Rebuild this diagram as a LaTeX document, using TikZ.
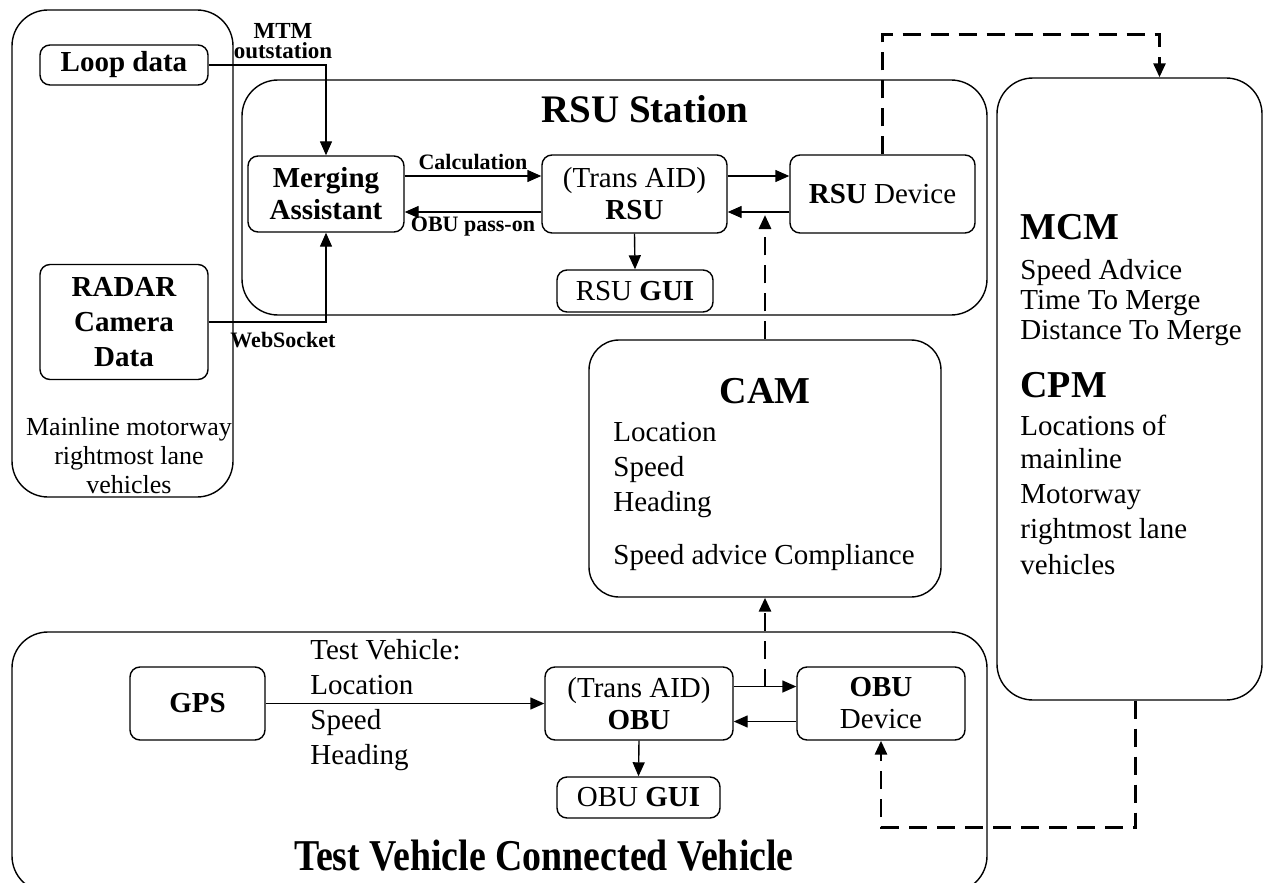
\documentclass[tikz,border=0pt]{standalone}
\usepackage{fontspec}
\setmainfont{Liberation Serif}
\newfontfamily\narrowserif[FakeStretch=0.86]{Liberation Serif}
\usetikzlibrary{arrows.meta}

\tikzset{
  box/.style={draw, rectangle, rounded corners=5pt, line width=0.7pt, align=center, inner sep=2pt, font=\fontsize{14.5}{16}\selectfont},
  frame/.style={draw, rectangle, rounded corners=18pt, line width=0.7pt},
  txt/.style={align=left, inner sep=0pt, font=\fontsize{14.5}{17.5}\selectfont},
  lbl/.style={align=center, inner sep=1pt, font=\fontsize{11}{10}\selectfont\bfseries},
  link/.style={-{Triangle[length=7pt,width=6pt]}, line width=0.7pt},
  dlink/.style={-{Triangle[length=7pt,width=6pt]}, line width=1.4pt, dash pattern=on 9pt off 5pt},
}

\begin{document}
\begin{tikzpicture}[x=0.5pt,y=-0.5pt]
\useasboundingbox (0,0) rectangle (1264,883);
% containers
\node[frame, minimum width=110.5pt, minimum height=243.5pt] (mainline) at (122.5,253.5) {};
\node[frame, minimum width=372.5pt, minimum height=117.5pt] (station) at (614.5,197.5) {};
\node[frame, minimum width=132.5pt, minimum height=311pt] (mcm) at (1129.5,389) {};
\node[frame, minimum width=487.5pt, minimum height=130pt] (vehicle) at (499.5,762) {};
\node[frame, rounded corners=15pt, minimum width=176pt, minimum height=128.5pt] (cam) at (765,468.5) {};

% left side
\node[box, font=\fontsize{14.5}{17}\selectfont\bfseries, minimum width=84pt, minimum height=20pt] (loop) at (124,65) {Loop data};
\node[box, font=\fontsize{14.5}{17.5}\selectfont\bfseries, minimum width=84pt, minimum height=57.5pt] (radar) at (124,322) {RADAR\\Camera\\Data};
\node[txt, align=center, font=\fontsize{13}{14.5}\selectfont] (mainlinetxt) at (129,456) {Mainline motorway\\rightmost lane\\vehicles};
\node[lbl, anchor=north, inner sep=0pt, font=\fontsize{11.5}{10}\selectfont\bfseries] (mtm) at (283,23) {MTM\\outstation};
\node[lbl] (websocket) at (283,340) {WebSocket};

% RSU station
\node[font=\fontsize{19.5}{22}\selectfont\bfseries, anchor=base] (stationtitle) at (645,123) {RSU Station};
\node[box, font=\fontsize{14.5}{16}\selectfont\bfseries, minimum width=78pt, minimum height=38pt] (merging) at (326,194) {Merging\\Assistant};
\node[box, minimum width=92.5pt, minimum height=39pt] (rsu) at (634.5,194) {(Trans AID)\\\textbf{RSU}};
\node[box, minimum width=92.5pt, minimum height=39pt] (rsudev) at (882.5,194) {\textbf{RSU} Device};
\node[box, minimum width=78pt, minimum height=21pt] (rsugui) at (635,291) {RSU \textbf{GUI}};

% CAM
\node[font=\fontsize{19}{22}\selectfont\bfseries, anchor=base] (camtitle) at (765,403) {CAM};
\node[txt, anchor=north west] (camtxt) at (613,422) {Location\\Speed\\Heading\\[9pt]Speed advice Compliance};

% MCM / CPM
\node[txt, anchor=north west, font=\fontsize{14.5}{15}\selectfont] (mcmtxt) at (1020,214) {{\fontsize{19}{22}\selectfont\bfseries MCM}\\[5pt]Speed Advice\\Time To Merge\\Distance To Merge\\[12.5pt]{\fontsize{19}{22}\selectfont\bfseries CPM}\\[4pt]Locations of\\[1.5pt]mainline\\[2.5pt]Motorway\\[2.5pt]rightmost lane\\[3pt]vehicles};

% test vehicle
\node[box, font=\fontsize{14.5}{17}\selectfont\bfseries, minimum width=67.5pt, minimum height=36.5pt] (gps) at (197.5,703.5) {GPS};
\node[box, minimum width=94pt, minimum height=36.5pt] (obu) at (639,703.5) {(Trans AID)\\\textbf{OBU}};
\node[box, minimum width=84pt, minimum height=36.5pt] (obudev) at (881,703.5) {\textbf{OBU}\\Device};
\node[box, minimum width=81.5pt, minimum height=20.5pt] (obugui) at (638.5,797.5) {OBU \textbf{GUI}};
\node[txt, anchor=west] (gpstxt) at (310,705) {Test Vehicle:\\Location\\Speed\\Heading};
\node[font=\fontsize{22}{24}\narrowserif\bfseries, anchor=base] (vehicletitle) at (544,870) {Test Vehicle Connected Vehicle};

% connectors
\draw[link] (loop.east) -| (merging.north);
\draw[link] (radar.east) -| (merging.south);
\draw[link] ([yshift=9pt]merging.east) -- node[lbl, above=2pt] {Calculation} ([yshift=9pt]rsu.west);
\draw[link] ([yshift=-9pt]rsu.west) -- node[lbl, below=1pt] {OBU pass-on} ([yshift=-9pt]merging.east);
\draw[link] ([yshift=9pt]rsu.east) -- ([yshift=9pt]rsudev.west);
\draw[link] ([yshift=-9pt]rsudev.west) -- ([yshift=-9pt]rsu.east);
\draw[link] (rsu.south) -- (rsugui.north);
\draw[link] (gps.east) -- (obu.west);
\draw[link] ([yshift=8.5pt]obu.east) -- ([yshift=8.5pt]obudev.west);
\draw[link] ([yshift=-9pt]obudev.west) -- ([yshift=-9pt]obu.east);
\draw[link] (obu.south) -- (obugui.north);
\coordinate (tap) at (765,687);
\draw[dlink] (tap) -- (cam.south);
\draw[dlink] (cam.north) -- (cam.north |- 0,215);
\draw[dlink] (rsudev.north) -- ++(0,-120) -| ([xshift=15pt]mcm.north);
\draw[dlink] ([xshift=3pt]mcm.south) -- ++(0,127) -| (obudev.south);
\end{tikzpicture}
\end{document}
